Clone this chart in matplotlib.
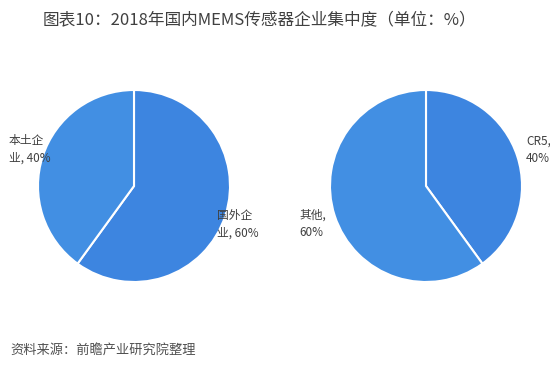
import matplotlib
matplotlib.use('Agg')
import matplotlib.pyplot as plt

plt.rcParams['font.family'] = ['Noto Sans CJK SC', 'DejaVu Sans']

# 左图：本土 vs 国外
left_labels = ['国外企\n业, 60%', '本土企\n业, 40%']
left_values = [60, 40]
# 右图：CR5 vs 其他
right_labels = ['CR5,\n40%', '其他,\n60%']
right_values = [40, 60]

dark = '#3d85e0'
light = '#428fe3'

fig = plt.figure(figsize=(5.5, 3.7), dpi=100)
fig.patch.set_facecolor('white')

fig.text(0.5 - 16 / 550, 1 - 21 / 370, '图表10：2018年国内MEMS传感器企业集中度（单位：%）',
         ha='center', va='center', fontsize=12, color='#404040')

r = 96 / 370
w = 2 * r * 370 / 550
axl = fig.add_axes([134 / 550 - w / 2, 1 - 186 / 370 - r, w, 2 * r])
axr = fig.add_axes([426 / 550 - w / 2, 1 - 186 / 370 - r, w, 2 * r])

for ax, vals in ((axl, left_values), (axr, right_values)):
    ax.pie(vals, colors=[dark, light], startangle=90, counterclock=False,
           wedgeprops=dict(edgecolor='white', linewidth=1.5))
    ax.set_aspect('equal')
    ax.set_xlim(-1, 1)
    ax.set_ylim(-1, 1)
    ax.axis('off')

lab_kw = dict(fontsize=8.5, color='#404040', ha='left', va='center', linespacing=1.45)
fig.text(9 / 550, 1 - 149 / 370, left_labels[1], **lab_kw)
fig.text(217 / 550, 1 - 224 / 370, left_labels[0], **lab_kw)
fig.text(526 / 550, 1 - 150 / 370, right_labels[0], **lab_kw)
fig.text(299 / 550, 1 - 224 / 370, right_labels[1], **lab_kw)

fig.text(10 / 550, 1 - 350 / 370, '资料来源：前瞻产业研究院整理',
         fontsize=9.5, color='#505050', style='italic', ha='left', va='center')

fig.savefig('out.png', dpi=100)
